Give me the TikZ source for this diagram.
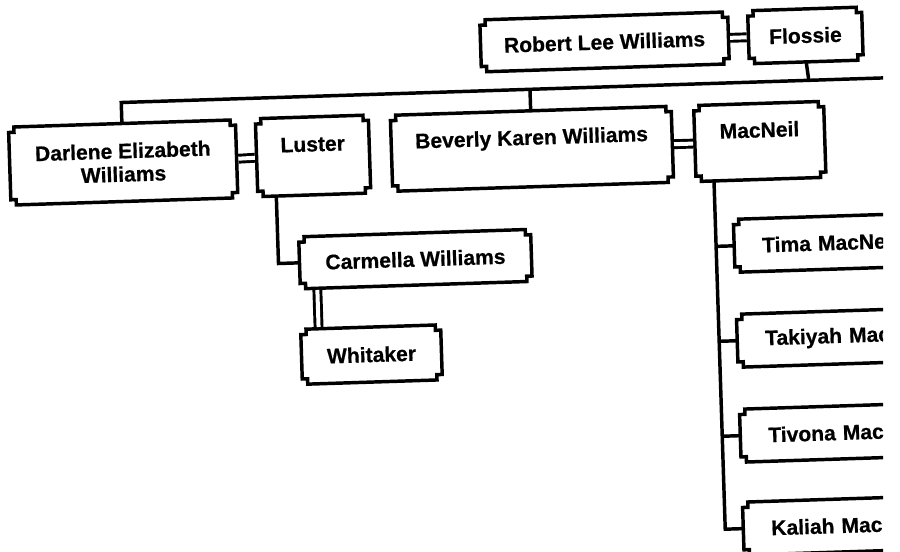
\documentclass[tikz,border=0pt]{standalone}
\usepackage{fontspec}
\setmainfont{Liberation Sans}[BoldFeatures={FakeBold=0.6}]
\newdimen\nbL \newdimen\nbR \newdimen\nbB \newdimen\nbT
\newdimen\nbLc \newdimen\nbRc \newdimen\nbBc \newdimen\nbTc
\makeatletter
\pgfdeclareshape{notchbox}{%
  \inheritsavedanchors[from=rectangle]%
  \inheritanchorborder[from=rectangle]%
  \inheritanchor[from=rectangle]{center}%
  \inheritanchor[from=rectangle]{north}%
  \inheritanchor[from=rectangle]{south}%
  \inheritanchor[from=rectangle]{east}%
  \inheritanchor[from=rectangle]{west}%
  \inheritanchor[from=rectangle]{north east}%
  \inheritanchor[from=rectangle]{north west}%
  \inheritanchor[from=rectangle]{south east}%
  \inheritanchor[from=rectangle]{south west}%
  \inheritanchor[from=rectangle]{text}%
  \inheritanchor[from=rectangle]{base}%
  \inheritanchor[from=rectangle]{mid}%
  \backgroundpath{%
    \southwest \nbL=\pgf@x \nbB=\pgf@y
    \northeast \nbR=\pgf@x \nbT=\pgf@y
    \nbLc=\nbL \advance\nbLc by 4pt
    \nbRc=\nbR \advance\nbRc by -4pt
    \nbBc=\nbB \advance\nbBc by 4pt
    \nbTc=\nbT \advance\nbTc by -4pt
    \pgfpathmoveto{\pgfqpoint{\nbL}{\nbBc}}%
    \pgfpathlineto{\pgfqpoint{\nbL}{\nbTc}}%
    \pgfpathlineto{\pgfqpoint{\nbLc}{\nbTc}}%
    \pgfpathlineto{\pgfqpoint{\nbLc}{\nbT}}%
    \pgfpathlineto{\pgfqpoint{\nbRc}{\nbT}}%
    \pgfpathlineto{\pgfqpoint{\nbRc}{\nbTc}}%
    \pgfpathlineto{\pgfqpoint{\nbR}{\nbTc}}%
    \pgfpathlineto{\pgfqpoint{\nbR}{\nbBc}}%
    \pgfpathlineto{\pgfqpoint{\nbRc}{\nbBc}}%
    \pgfpathlineto{\pgfqpoint{\nbRc}{\nbB}}%
    \pgfpathlineto{\pgfqpoint{\nbLc}{\nbB}}%
    \pgfpathlineto{\pgfqpoint{\nbLc}{\nbBc}}%
    \pgfpathclose
  }%
}
\makeatother
\tikzset{
  pbox/.style={shape=notchbox, draw, line width=2.6pt, outer sep=0pt, inner sep=2pt,
    align=center, font=\bfseries\fontsize{15.8}{17.5}\selectfont},
  kidbox/.style={pbox, minimum width=180pt, minimum height=39.75pt, text width=138pt, align=left},
  link/.style={line width=2.6pt},
  dbl/.style={line width=2.2pt, double, double distance=3pt, shorten <=1.3pt, shorten >=1.3pt},
}
\begin{document}
\begin{tikzpicture}[x=0.75pt, y=-0.75pt]
\useasboundingbox (0,0) rectangle (900,552);
\fill[white] (0,0) rectangle (900,552);
\clip (0,0) rectangle (883,552);
\begin{scope}[rotate around={1.85:(450,276)}, transform shape]
  % boxes
  \node[pbox, minimum width=186pt, minimum height=39pt] (robert) at (612,47) {Robert Lee Williams};
  \node[pbox, minimum width=85.5pt, minimum height=39.75pt] (flossie) at (813,47) {Flossie};
  \node[pbox, minimum width=170.25pt, minimum height=58.5pt] (darlene) at (127,152) {Darlene Elizabeth\\Williams};
  \node[pbox, minimum width=84.75pt, minimum height=58.5pt] (luster) at (317,151.5) {Luster\\\mbox{}};
  \node[pbox, minimum width=210.75pt, minimum height=57pt] (beverly) at (536,151.5) {Beverly Karen Williams\\\mbox{}};
  \node[pbox, minimum width=97.5pt, minimum height=57pt] (macneil) at (764,151.5) {MacNeil\\\mbox{}};
  \node[pbox, minimum width=174pt, minimum height=39pt] (carmella) at (416,258) {Carmella Williams};
  \node[pbox, minimum width=105pt, minimum height=41.25pt] (whitaker) at (369,352) {Whitaker};
  \node[kidbox] (tima) at (855,255) {Tima MacNeil};
  \node[kidbox] (takiyah) at (855,350) {Takiyah MacNeil};
  \node[kidbox] (tivona) at (855,445) {Tivona MacNeil};
  \node[kidbox] (kaliah) at (855,538) {Kaliah MacNeil};
  % elbow coordinates
  \coordinate (bL) at (127,92);
  \coordinate (bB) at (536,92);
  \coordinate (bF) at (815,92);
  \coordinate (bR) at (892,92);
  \coordinate (lTop) at (279,190.5);
  \coordinate (lElb) at (279,258);
  \coordinate (cw1) at (317,284);
  \coordinate (cw2) at (317,324.5);
  \coordinate (mTop) at (717,189.5);
  \coordinate (m1) at (717,255);
  \coordinate (m2) at (717,350);
  \coordinate (m3) at (717,445);
  \coordinate (m4) at (717,538);
  % couples
  \draw[dbl] (robert.east) -- (flossie.west);
  \draw[dbl] (darlene.east) -- (luster.west);
  \draw[dbl] (beverly.east) -- (macneil.west);
  \draw[dbl] (cw1) -- (cw2);
  % descent lines
  \draw[link] (flossie.south) -- (bF);
  \draw[link] (darlene.north) -- (bL) -- (bR);
  \draw[link] (beverly.north) -- (bB);
  \draw[link] (lTop) -- (lElb) -- (carmella.west);
  \draw[link] (mTop) -- (m4) -- (kaliah.west);
  \draw[link] (m1) -- (tima.west);
  \draw[link] (m2) -- (takiyah.west);
  \draw[link] (m3) -- (tivona.west);
\end{scope}
\end{tikzpicture}
\end{document}
